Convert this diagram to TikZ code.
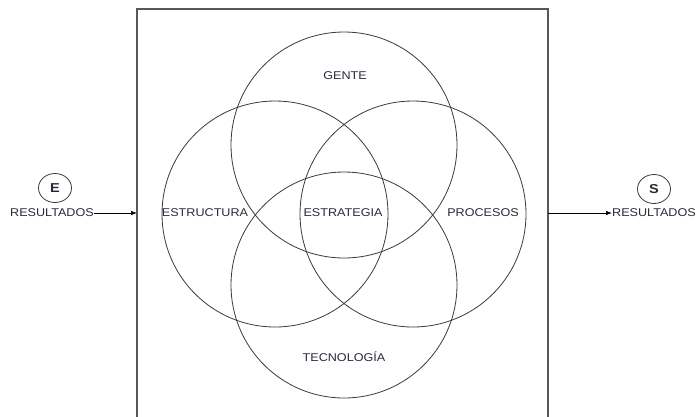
\documentclass[tikz,border=0pt]{standalone}
\usepackage{fontspec}
\setmainfont{Liberation Sans}[FakeStretch=1.12]
\usetikzlibrary{arrows.meta,shapes.geometric}
\definecolor{txt}{HTML}{262B38}
\definecolor{ln}{HTML}{3A3A3A}
\begin{document}
\begin{tikzpicture}[x=1bp,y=-1bp,
  lbl/.style={font=\fontsize{11.3}{13}\selectfont, text=txt, inner sep=0pt},
  venn/.style={draw=ln, line width=0.8bp},
  io/.style={ellipse, draw=ln, line width=0.8bp, minimum width=33bp, minimum height=29bp, inner sep=0pt, font=\fontsize{13}{15}\selectfont\bfseries, text=txt},
  arr/.style={draw=black, line width=0.7bp, -{Latex[length=6bp,width=4.5bp]}}]
\useasboundingbox (0,0) rectangle (699,416);
% frame (open at the bottom of the view)
\draw[draw=ln!85, line width=1.3bp] (137,430) -- (137,9) -- (548,9) -- (548,430);
\coordinate (inL) at (137,213);
\coordinate (outR) at (548,213);
% circles
\draw[venn] (344,145) circle (113);
\draw[venn] (275,214) circle (113);
\draw[venn] (413,214) circle (113);
\draw[venn] (344,285) circle (113);
% labels
\node[lbl] (gente) at (345,76) {GENTE};
\node[lbl] (estr) at (205,213) {ESTRUCTURA};
\node[lbl] (estrat) at (343,213) {ESTRATEGIA};
\node[lbl] (proc) at (483,213) {PROCESOS};
\node[lbl] (tec) at (344,357) {TECNOLOGÍA};
% inputs / outputs
\node[io] (E) at (55,188) {E};
\node[lbl, anchor=west] (resl) at (10,213) {RESULTADOS};
\node[io] (S) at (654,189) {S};
\node[lbl, anchor=west] (resr) at (612,213) {RESULTADOS};
\draw[arr] (resl.east) -- (inL);
\draw[arr] (outR) -- (resr.west);
\end{tikzpicture}
\end{document}
